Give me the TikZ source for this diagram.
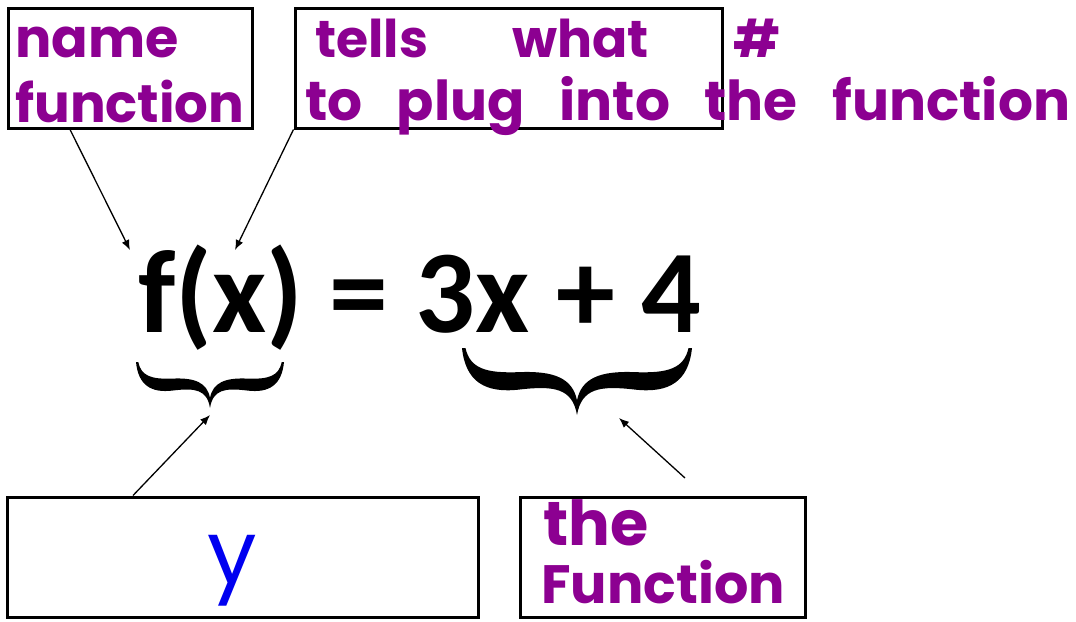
\documentclass[tikz,border=0pt]{standalone}
\usepackage{fontspec}
\newfontfamily\hand{Poppins}
\newfontfamily\eqfont{Carlito}
\usetikzlibrary{arrows.meta}
\definecolor{handpurple}{RGB}{140,0,145}
\definecolor{handblue}{RGB}{0,0,240}
\tikzset{
  frame/.style={draw=black, line width=3pt, fill=none, inner sep=0pt},
  pointer/.style={draw=black, line width=1.3pt, -{Latex[length=10pt,width=8pt]}},
  hw/.style={text=handpurple, inner sep=0pt, anchor=base west, font=\hand\bfseries},
}
\newcommand{\bracefill}{%
  \fill (-1,0) .. controls (-0.97,0.5) and (-0.8,0.68) .. (-0.5,0.62)
     .. controls (-0.2,0.56) and (-0.04,0.6) .. (0,1)
     .. controls (0.04,0.6) and (0.2,0.56) .. (0.5,0.62)
     .. controls (0.8,0.68) and (0.97,0.5) .. (1,0)
     -- (0.97,0)
     .. controls (0.93,0.3) and (0.8,0.38) .. (0.5,0.36)
     .. controls (0.2,0.34) and (0.04,0.45) .. (0,0.78)
     .. controls (-0.04,0.45) and (-0.2,0.34) .. (-0.5,0.36)
     .. controls (-0.8,0.38) and (-0.93,0.3) .. (-0.97,0) -- cycle;}
\begin{document}
\begin{tikzpicture}[x=1pt,y=-1pt]
\useasboundingbox (0,0) rectangle (1076,621);
\fill[white] (0,0) rectangle (1076,621);
% boxes
\node[frame, minimum width=244pt, minimum height=120pt] (box1) at (130,68) {};
\node[frame, minimum width=427pt, minimum height=120pt] (box2) at (508.5,68) {};
\node[frame, minimum width=471pt, minimum height=120pt] (box3) at (242.5,557) {};
\node[frame, minimum width=285pt, minimum height=120pt] (box4) at (662.5,557) {};
% handwritten texts
\node[hw, font=\hand\bfseries\fontsize{54}{54}\selectfont] (t1a) at (15,57) {name};
\node[hw, font=\hand\bfseries\fontsize{53}{53}\selectfont] (t1b) at (15,122) {function};
\node[hw, font=\hand\bfseries\fontsize{52}{52}\selectfont] (t2a) at (315,57) {\makebox[465pt][s]{tells\hfill what\hfill \#}};
\node[hw, font=\hand\bfseries\fontsize{55}{55}\selectfont] (t2b) at (305,120) {\makebox[765pt][s]{to\hfill plug\hfill into\hfill the\hfill function}};
\node[hw, text=handblue, font=\hand\fontsize{88}{88}\selectfont, anchor=base] (t3) at (232,583) {y};
\node[hw, font=\hand\bfseries\fontsize{62}{62}\selectfont] (t4a) at (543,545) {the};
\node[hw, font=\hand\bfseries\fontsize{54}{54}\selectfont] (t4b) at (541,603) {Function};
% equation
\node[inner sep=0pt, anchor=base west, font=\eqfont\bfseries\fontsize{118}{118}\selectfont] (eq) at (138,332) {f(x) = 3x + 4};
% braces
\begin{scope}[shift={(210,362)}, xscale=74, yscale=46]\bracefill\end{scope}
\begin{scope}[shift={(577,348)}, xscale=115, yscale=67]\bracefill\end{scope}
% arrow tips / free ends
\coordinate (tipf) at (130,250);
\coordinate (tipx) at (235,250);
\coordinate (tipy) at (210,415);
\coordinate (tipfn) at (619,418);
\coordinate (fnstart) at (685,478);
\draw[pointer] ([xshift=-60pt]box1.south) -- (tipf);
\draw[pointer] (box2.south west) -- (tipx);
\draw[pointer] ([xshift=-109.5pt]box3.north) -- (tipy);
\draw[pointer] (fnstart) -- (tipfn);
\end{tikzpicture}
\end{document}
